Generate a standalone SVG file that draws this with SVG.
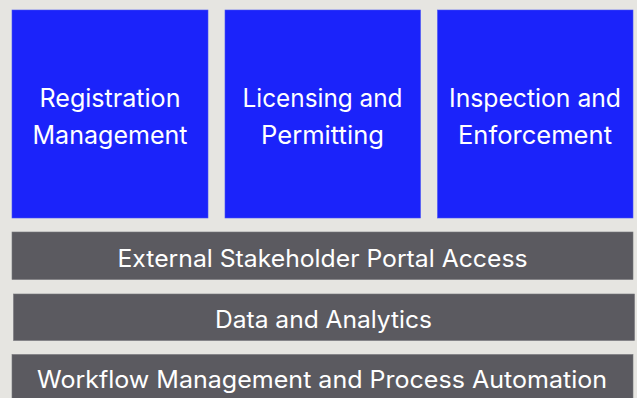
<svg xmlns="http://www.w3.org/2000/svg" width="637" height="398" viewBox="0 0 637 398">
<style>
.box{fill:#1b23fa;stroke:#4650f5;stroke-width:0.6}
.bar{fill:#5b5a60;stroke:#76757a;stroke-width:0.6}
.t{font-family:Inter,"Liberation Sans",sans-serif;fill:#ffffff;text-anchor:middle;font-weight:400}
.bt{font-size:25px}
.rt{font-size:24px}
</style>
<rect x="0" y="0" width="637" height="398" fill="#e6e5e1"/>
<g id="registration-management">
<rect class="box" x="12" y="10" width="196" height="208"/>
<text class="t bt" x="110" y="107" textLength="141" lengthAdjust="spacingAndGlyphs">Registration</text>
<text class="t bt" x="110" y="144" textLength="155" lengthAdjust="spacingAndGlyphs">Management</text>
</g>
<g id="licensing-permitting">
<rect class="box" x="225" y="10" width="195.5" height="208"/>
<text class="t bt" x="322.5" y="107" textLength="160" lengthAdjust="spacingAndGlyphs">Licensing and</text>
<text class="t bt" x="322.5" y="144" textLength="123" lengthAdjust="spacingAndGlyphs">Permitting</text>
</g>
<g id="inspection-enforcement">
<rect class="box" x="437.5" y="10" width="195.5" height="208"/>
<text class="t bt" x="535" y="107" textLength="172" lengthAdjust="spacingAndGlyphs">Inspection and</text>
<text class="t bt" x="535" y="144" textLength="154" lengthAdjust="spacingAndGlyphs">Enforcement</text>
</g>
<g id="external-portal">
<rect class="bar" x="12" y="232" width="621" height="47.5"/>
<text class="t rt" x="322.5" y="266.5" textLength="410" lengthAdjust="spacingAndGlyphs">External Stakeholder Portal Access</text>
</g>
<g id="data-analytics">
<rect class="bar" x="13.5" y="294" width="621" height="46.5"/>
<text class="t rt" x="323.5" y="328.3" textLength="217" lengthAdjust="spacingAndGlyphs">Data and Analytics</text>
</g>
<g id="workflow">
<rect class="bar" x="12" y="354.5" width="621" height="50"/>
<text class="t rt" x="322" y="388.3" textLength="570" lengthAdjust="spacingAndGlyphs">Workflow Management and Process Automation</text>
</g>
<g id="connectors"></g>
</svg>
